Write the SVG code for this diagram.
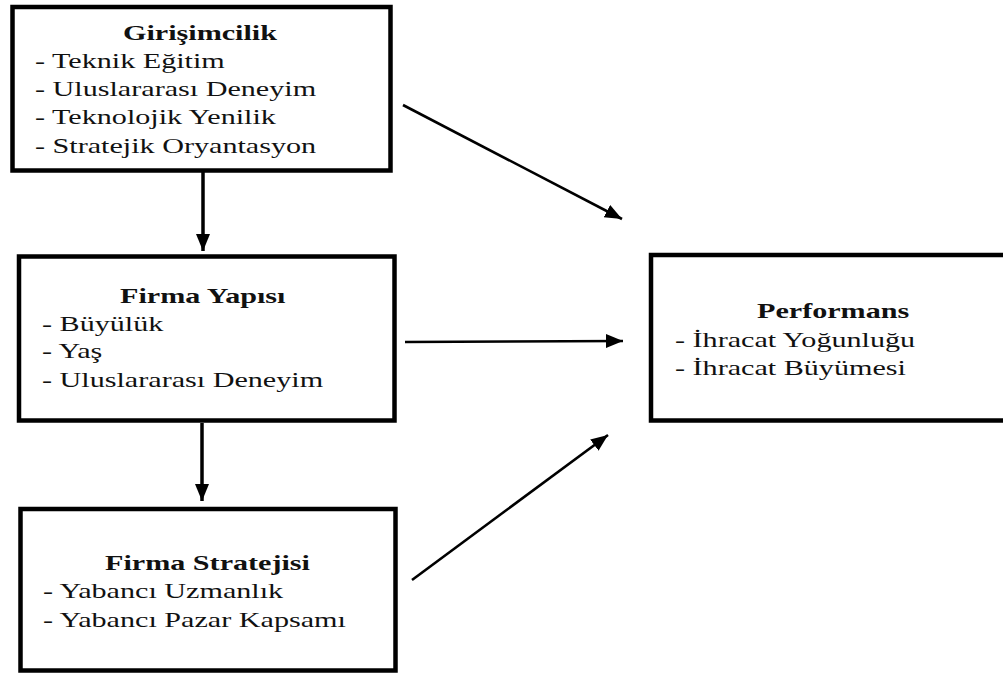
<svg xmlns="http://www.w3.org/2000/svg" width="1003" height="674" viewBox="0 0 1003 674">
  <defs>
    <marker id="head" markerUnits="userSpaceOnUse" markerWidth="18" markerHeight="16" refX="17" refY="7" orient="auto">
      <path d="M0,0 L17,7 L0,14 Z" fill="#000"/>
    </marker>
    <style>
      .box { fill: #fff; stroke: #000; stroke-width: 4.5; }
      text { font-family: 'Liberation Serif', 'DejaVu Serif', serif; font-size: 22px; fill: #111; }
      .title { font-weight: bold; }
      .link { stroke: #000; stroke-width: 2.6; fill: none; marker-end: url(#head); }
      .down { stroke-width: 3.5; }
    </style>
  </defs>
  <rect width="1003" height="674" fill="#fff"/>

  <!-- Connectors -->
  <g id="connectors">
    <line class="link down" x1="203" y1="172" x2="203" y2="251"/>
    <line class="link down" x1="202" y1="423" x2="202" y2="501"/>
    <line class="link" x1="403" y1="105" x2="622" y2="219"/>
    <line class="link" x1="405" y1="342" x2="623" y2="341"/>
    <line class="link" x1="412" y1="580" x2="608" y2="435"/>
  </g>

  <!-- Text is drawn with a horizontal stretch of 1.37 -->
  <!-- Girişimcilik -->
  <g id="girisimcilik">
    <rect class="box" x="12.5" y="7" width="378" height="163.5"/>
    <text class="title" transform="translate(123,40) scale(1.37,1)">Girişimcilik</text>
    <text transform="translate(35,68) scale(1.37,1)">- Teknik Eğitim</text>
    <text transform="translate(35,96) scale(1.37,1)">- Uluslararası Deneyim</text>
    <text transform="translate(35,124) scale(1.37,1)">- Teknolojik Yenilik</text>
    <text transform="translate(35,153) scale(1.37,1)">- Stratejik Oryantasyon</text>
  </g>

  <!-- Firma Yapısı -->
  <g id="firma-yapisi">
    <rect class="box" x="19" y="256.5" width="375.5" height="164"/>
    <text class="title" transform="translate(120,303) scale(1.37,1)">Firma Yapısı</text>
    <text transform="translate(42,331) scale(1.37,1)">- Büyülük</text>
    <text transform="translate(42,358) scale(1.37,1)">- Yaş</text>
    <text transform="translate(42,387) scale(1.37,1)">- Uluslararası Deneyim</text>
  </g>

  <!-- Firma Stratejisi -->
  <g id="firma-stratejisi">
    <rect class="box" x="20.5" y="509" width="375" height="161.5"/>
    <text class="title" transform="translate(105,570) scale(1.37,1)">Firma Stratejisi</text>
    <text transform="translate(43,598) scale(1.37,1)">- Yabancı Uzmanlık</text>
    <text transform="translate(43,627) scale(1.37,1)">- Yabancı Pazar Kapsamı</text>
  </g>

  <!-- Performans -->
  <g id="performans">
    <rect class="box" x="651" y="255" width="358" height="165.5"/>
    <text class="title" transform="translate(757,318) scale(1.37,1)">Performans</text>
    <text transform="translate(675,347) scale(1.37,1)">- İhracat Yoğunluğu</text>
    <text transform="translate(675,375) scale(1.37,1)">- İhracat Büyümesi</text>
  </g>
</svg>
